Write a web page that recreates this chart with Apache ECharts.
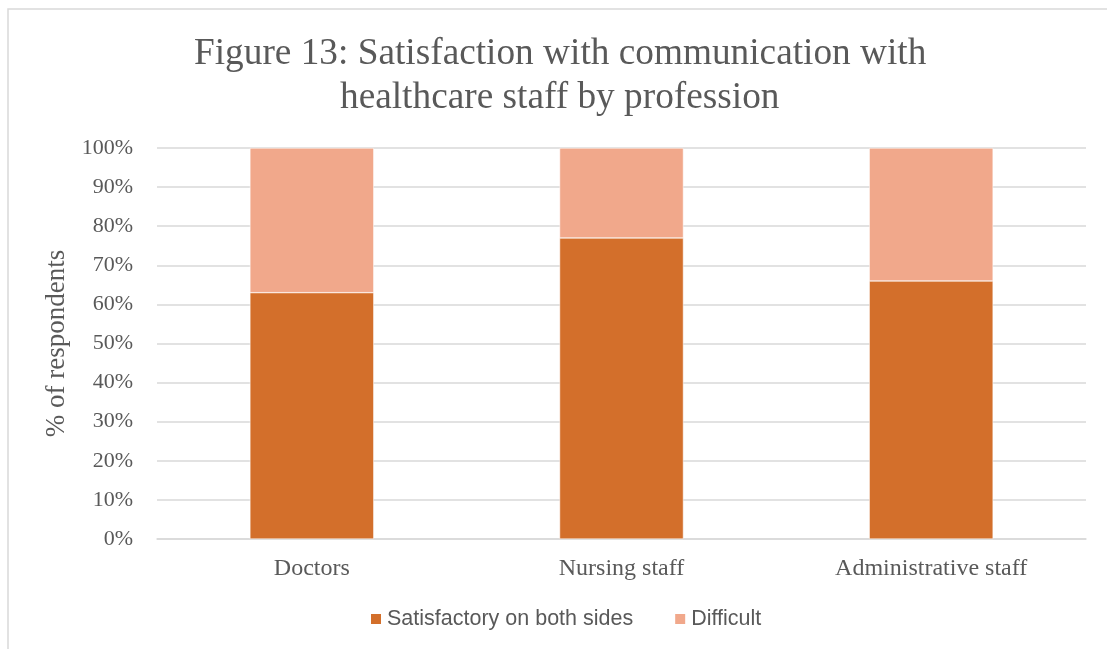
<!DOCTYPE html>
<html>
<head>
<meta charset="utf-8">
<script src="https://cdn.jsdelivr.net/npm/echarts@6/dist/echarts.min.js"></script>
<style>html,body{margin:0;padding:0;background:#fff;}#c{width:1107px;height:649px;}</style>
</head>
<body>
<div id="c"></div>
<script>
var categories = ['Doctors', 'Nursing staff', 'Administrative staff'];
var satisfactory = [63, 77, 66];
var difficult = [37, 23, 34];
var seriesNames = ['Satisfactory on both sides', 'Difficult'];
var titleLines = ['Figure 13: Satisfaction with communication with', 'healthcare staff by profession'];

var chart = echarts.init(document.getElementById('c'));
var serif = '"Liberation Serif", "Times New Roman", serif';
var titleStyle = { fontFamily: serif, fontSize: 37.3, fontWeight: 'normal', color: '#595959' };
chart.setOption({
  animation: false,
  backgroundColor: '#fff',
  graphic: [{
    type: 'rect',
    shape: { x: 8, y: 9, width: 1200, height: 700 },
    style: { fill: 'none', stroke: '#d9d9d9', lineWidth: 1.5 },
    silent: true
  }],
  title: [
    { text: titleLines[0], left: 194, top: 36, padding: 0, textStyle: titleStyle },
    { text: titleLines[1], left: 340, top: 80, padding: 0, textStyle: titleStyle }
  ],
  grid: { left: 157, right: 21, top: 148, bottom: 110, containLabel: false },
  legend: {
    bottom: 14, left: 364,
    itemWidth: 12, itemHeight: 12, itemGap: 40,
    icon: 'rect',
    textStyle: { fontFamily: '"Liberation Sans", Arial, sans-serif', fontSize: 21.5, color: '#595959' },
    data: seriesNames
  },
  xAxis: {
    type: 'category', data: categories,
    axisLine: { show: true, lineStyle: { color: '#d9d9d9', width: 1.5 } },
    axisTick: { show: false },
    axisLabel: { fontFamily: serif, fontSize: 24, color: '#595959', margin: 18 }
  },
  yAxis: {
    type: 'value', min: 0, max: 100, interval: 10,
    name: '% of respondents', nameLocation: 'middle', nameGap: 80, nameRotate: 90,
    nameTextStyle: { fontFamily: serif, fontSize: 27, color: '#595959' },
    axisLine: { show: false }, axisTick: { show: false },
    axisLabel: { formatter: '{value}%', fontFamily: serif, fontSize: 22, color: '#595959', margin: 24 },
    splitLine: { lineStyle: { color: '#d9d9d9', width: 1.5 } }
  },
  series: [
    { name: seriesNames[0], type: 'bar', stack: 's', data: satisfactory, barWidth: '40%',
      itemStyle: { color: '#D36F2B', borderColor: '#fff', borderWidth: 0.5 } },
    { name: seriesNames[1], type: 'bar', stack: 's', data: difficult, barWidth: '40%',
      itemStyle: { color: '#F1A88B', borderColor: '#fff', borderWidth: 0.5 } }
  ]
});
</script>
</body>
</html>
